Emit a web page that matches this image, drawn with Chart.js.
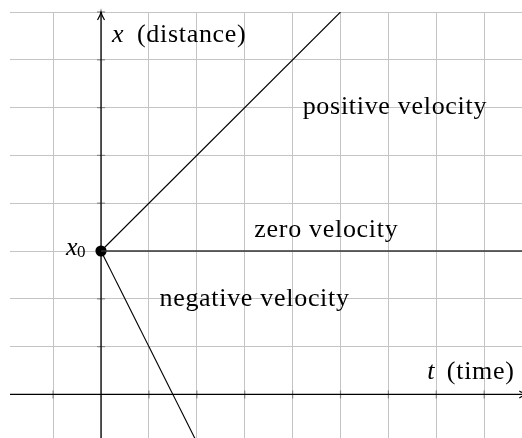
<!DOCTYPE html>
<html><head><meta charset="utf-8">
<script src="https://cdn.jsdelivr.net/npm/chart.js@4.4.1/dist/chart.umd.min.js"></script>
<style>html,body{margin:0;padding:0;background:#fff;overflow:hidden}canvas{display:block}</style>
</head><body>
<canvas id="c" width="522" height="438"></canvas>
<script>
// ---- data ----
const positiveTime = [0, 5];
const positiveDistance = [3, 8];
const zeroTime = [0, 9];
const zeroDistance = [3, 3];
const negativeTime = [0, 2];
const negativeDistance = [3, -1];
const startTime = [0];
const startDistance = [3];
const gridTimes = [-1, 0, 1, 2, 3, 4, 5, 6, 7, 8];
const gridDistances = [0, 1, 2, 3, 4, 5, 6, 7, 8];
const axisTexts = ['x', '(distance)', 't', '(time)'];
const regionTexts = ['positive velocity', 'zero velocity', 'negative velocity'];
const startTexts = ['x', '0'];

const toPts = (ts, xs) => ts.map((t, i) => ({x: t, y: xs[i]}));

// ---- layout of annotations (data coordinates) ----
const textPlacement = [
  {text: axisTexts[0], t: 0.23, v: 7.38, italic: true},
  {text: axisTexts[1], t: 0.75, v: 7.38},
  {text: axisTexts[2], t: 6.81, v: 0.33, italic: true},
  {text: axisTexts[3], t: 7.22, v: 0.33},
  {text: regionTexts[0], t: 4.21, v: 5.86},
  {text: regionTexts[1], t: 3.20, v: 3.30},
  {text: regionTexts[2], t: 1.22, v: 1.85},
  {text: startTexts[0], t: -0.73, v: 2.92, italic: true},
  {text: startTexts[1], t: -0.50, v: 2.88, size: 17}
];
const axisRange = {tMin: -1.9, tMax: 8.9, vMin: -1.0, vMax: 8.0};

const decor = {
  id: 'decor',
  beforeDatasetsDraw(chart) {
    const ctx = chart.ctx, sx = chart.scales.x, sy = chart.scales.y;
    const X0 = sx.getPixelForValue(0), Y0 = sy.getPixelForValue(0);
    ctx.save();
    // tick marks
    ctx.strokeStyle = '#858585'; ctx.lineWidth = 1.2;
    sx.ticks.forEach(tk => {
      if (tk.value === 0) return;
      const px = sx.getPixelForValue(tk.value);
      ctx.beginPath(); ctx.moveTo(px, Y0 - 4); ctx.lineTo(px, Y0 + 4); ctx.stroke();
    });
    sy.ticks.forEach(tk => {
      if (tk.value === 0) return;
      const py = sy.getPixelForValue(tk.value);
      ctx.beginPath(); ctx.moveTo(X0 - 4, py); ctx.lineTo(X0 + 4, py); ctx.stroke();
    });
    // axes
    ctx.strokeStyle = '#000'; ctx.lineWidth = 1.3;
    const xl = sx.getPixelForValue(axisRange.tMin), xr = sx.getPixelForValue(axisRange.tMax);
    const yb = sy.getPixelForValue(axisRange.vMin), yt = sy.getPixelForValue(axisRange.vMax);
    ctx.beginPath(); ctx.moveTo(xl, Y0); ctx.lineTo(xr, Y0); ctx.stroke();
    ctx.beginPath(); ctx.moveTo(X0, yb); ctx.lineTo(X0, yt); ctx.stroke();
    // arrow heads
    ctx.lineWidth = 1.2;
    ctx.beginPath();
    ctx.moveTo(X0 - 3.5, yt + 8); ctx.quadraticCurveTo(X0 - 0.5, yt + 3, X0, yt);
    ctx.quadraticCurveTo(X0 + 0.5, yt + 3, X0 + 3.5, yt + 8);
    ctx.stroke();
    ctx.beginPath();
    ctx.moveTo(xr - 8, Y0 - 3.5); ctx.quadraticCurveTo(xr - 3, Y0 - 0.5, xr, Y0);
    ctx.quadraticCurveTo(xr - 3, Y0 + 0.5, xr - 8, Y0 + 3.5);
    ctx.stroke();
    ctx.restore();
  },
  afterDatasetsDraw(chart) {
    const ctx = chart.ctx, sx = chart.scales.x, sy = chart.scales.y;
    ctx.save();
    ctx.fillStyle = '#000';
    ctx.textBaseline = 'alphabetic';
    ctx.textAlign = 'left';
    textPlacement.forEach(l => {
      const size = l.size || 26;
      ctx.font = (l.italic ? 'italic ' : '') + size + 'px "Liberation Serif"';
      try { ctx.letterSpacing = l.size ? '0px' : '0.7px'; } catch (e) {}
      ctx.fillText(l.text, sx.getPixelForValue(l.t), sy.getPixelForValue(l.v));
    });
    ctx.restore();
  }
};

new Chart(document.getElementById('c'), {
  type: 'scatter',
  data: {
    datasets: [
      {label: 'zero velocity', data: toPts(zeroTime, zeroDistance), showLine: true,
       borderColor: '#333', borderWidth: 1.5, pointRadius: 0, fill: false},
      {label: 'positive velocity', data: toPts(positiveTime, positiveDistance), showLine: true,
       borderColor: '#000', borderWidth: 1.1, pointRadius: 0, fill: false},
      {label: 'negative velocity', data: toPts(negativeTime, negativeDistance), showLine: true,
       borderColor: '#000', borderWidth: 1.1, pointRadius: 0, fill: false},
      {label: 'x0', data: toPts(startTime, startDistance), showLine: false,
       pointRadius: 5.6, pointBackgroundColor: '#000', pointBorderWidth: 0, borderColor: '#000'}
    ]
  },
  options: {
    responsive: false,
    animation: false,
    devicePixelRatio: 1,
    layout: {autoPadding: false, padding: {left: 10, top: 12, right: 0, bottom: 0}},
    plugins: {legend: {display: false}, tooltip: {enabled: false}},
    events: [],
    scales: {
      x: {
        type: 'linear', min: -1.9, max: 8.789,
        ticks: {display: false},
        grid: {color: '#c4c4c4', lineWidth: 1, drawTicks: false},
        border: {display: false},
        afterBuildTicks: axis => { axis.ticks = gridTimes.map(v => ({value: v})); },
        afterFit: s => { s.height = 0; }
      },
      y: {
        type: 'linear', min: -0.912, max: 8,
        ticks: {display: false},
        grid: {color: '#c4c4c4', lineWidth: 1, drawTicks: false},
        border: {display: false},
        afterBuildTicks: axis => { axis.ticks = gridDistances.map(v => ({value: v})); },
        afterFit: s => { s.width = 0; }
      }
    }
  },
  plugins: [decor]
});
</script>
</body></html>
